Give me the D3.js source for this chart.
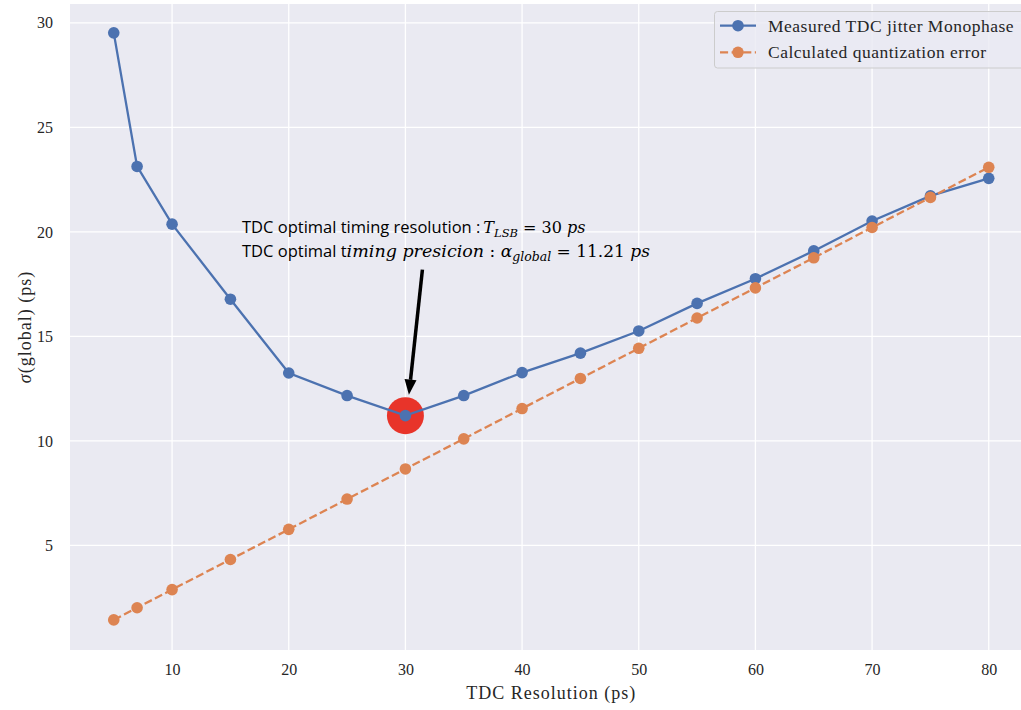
<!DOCTYPE html>
<html>
<head>
<meta charset="utf-8">
<script src="https://cdn.jsdelivr.net/npm/d3@7"></script>
<style>
  html, body { margin: 0; padding: 0; background: #ffffff; }
  svg { display: block; }
</style>
</head>
<body>
<svg id="chart" width="1021" height="710"></svg>
<script>
// ---- data ----
const resolutions = [5, 7, 10, 15, 20, 25, 30, 35, 40, 45, 50, 55, 60, 65, 70, 75, 80];
const measuredJitter = [29.52, 23.13, 20.37, 16.78, 13.25, 12.17, 11.21, 12.17, 13.27, 14.2, 15.26, 16.58, 17.76, 19.09, 20.52, 21.72, 22.56];
const quantError = [1.44, 2.02, 2.89, 4.33, 5.77, 7.22, 8.66, 10.1, 11.55, 12.99, 14.43, 15.88, 17.32, 18.76, 20.21, 21.65, 23.09];
const xTicks = [10, 20, 30, 40, 50, 60, 70, 80];
const yTicks = [5, 10, 15, 20, 25, 30];
const seriesNames = ["Measured TDC jitter Monophase", "Calculated quantization error"];
const optimum = { x: 30, y: 11.21 };

// ---- layout ----
const svg = d3.select("#chart");
const plot = { left: 70, top: 4, right: 1032.5, bottom: 650 };
const x = d3.scaleLinear().domain([1.25, 83.75]).range([plot.left, plot.right]);
const y = d3.scaleLinear().domain([0, 30.9]).range([plot.bottom, plot.top]);

const blue = "#4c72b0", orange = "#dd8452", textCol = "#262626";
const serif = "'Liberation Serif', 'Times New Roman', serif";

svg.append("rect")
  .attr("x", plot.left).attr("y", plot.top)
  .attr("width", plot.right - plot.left).attr("height", plot.bottom - plot.top)
  .attr("fill", "#eaeaf2");

// grid
const grid = svg.append("g");
grid.selectAll(".gx").data(xTicks).join("line")
  .attr("x1", d => x(d)).attr("x2", d => x(d))
  .attr("y1", plot.top).attr("y2", plot.bottom)
  .attr("stroke", "#ffffff").attr("stroke-width", 1.3);
grid.selectAll(".gy").data(yTicks).join("line")
  .attr("x1", plot.left).attr("x2", plot.right)
  .attr("y1", d => y(d)).attr("y2", d => y(d))
  .attr("stroke", "#ffffff").attr("stroke-width", 1.3);

// axes (labels only, no tick marks / domain)
const xAxis = svg.append("g").attr("transform", `translate(0,${plot.bottom})`)
  .call(d3.axisBottom(x).tickValues(xTicks).tickSize(0).tickPadding(14).tickFormat(d3.format("d")));
const yAxis = svg.append("g").attr("transform", `translate(${plot.left},0)`)
  .call(d3.axisLeft(y).tickValues(yTicks).tickSize(0).tickPadding(17).tickFormat(d3.format("d")));
[xAxis, yAxis].forEach(a => {
  a.select(".domain").remove();
  a.selectAll("text").attr("font-family", serif).attr("font-size", 16).attr("fill", textCol);
});

svg.append("text")
  .attr("x", (plot.left + plot.right) / 2).attr("y", 699)
  .attr("text-anchor", "middle").attr("font-family", serif).attr("font-size", 18)
  .attr("letter-spacing", 1).attr("fill", textCol)
  .text("TDC Resolution (ps)");

const yl = svg.append("text")
  .attr("transform", `translate(31,${(plot.top + plot.bottom) / 2}) rotate(-90)`)
  .attr("text-anchor", "middle").attr("font-family", serif).attr("font-size", 18)
  .attr("letter-spacing", 1).attr("fill", textCol);
yl.append("tspan").attr("font-style", "italic").text("σ");
yl.append("tspan").text("(global) (ps)");

// optimum highlight
svg.append("circle")
  .attr("cx", x(optimum.x)).attr("cy", y(optimum.y)).attr("r", 18.5)
  .attr("fill", "#e8342a");

const pts1 = resolutions.map((r, i) => [r, measuredJitter[i]]);
const pts2 = resolutions.map((r, i) => [r, quantError[i]]);
const line = d3.line().x(d => x(d[0])).y(d => y(d[1]));

const g1 = svg.append("g");
g1.append("path").attr("d", line(pts1)).attr("fill", "none").attr("stroke", blue).attr("stroke-width", 2.3);
g1.selectAll("circle").data(pts1).join("circle")
  .attr("cx", d => x(d[0])).attr("cy", d => y(d[1])).attr("r", 5.8).attr("fill", blue);

const g2 = svg.append("g");
g2.append("path").attr("d", line(pts2)).attr("fill", "none").attr("stroke", orange)
  .attr("stroke-width", 2.3).attr("stroke-dasharray", "8.1,3.5");
g2.selectAll("circle").data(pts2).join("circle")
  .attr("cx", d => x(d[0])).attr("cy", d => y(d[1])).attr("r", 5.8).attr("fill", orange);

// arrow
const tip = [x(optimum.x) + 3.5, y(optimum.y) - 21];
const tail = [x(optimum.x) + 17, y(optimum.y) - 146];
const ang = Math.atan2(tip[1] - tail[1], tip[0] - tail[0]);
const headLen = 15, headW = 6;
const base = [tip[0] - headLen * Math.cos(ang), tip[1] - headLen * Math.sin(ang)];
svg.append("line")
  .attr("x1", tail[0]).attr("y1", tail[1]).attr("x2", base[0]).attr("y2", base[1])
  .attr("stroke", "#000").attr("stroke-width", 3.5);
svg.append("polygon")
  .attr("points", [
    tip,
    [base[0] + headW * Math.sin(ang), base[1] - headW * Math.cos(ang)],
    [base[0] - headW * Math.sin(ang), base[1] + headW * Math.cos(ang)]
  ].map(p => p.join(",")).join(" "))
  .attr("fill", "#000");

// annotation text
const sans = "'Open Sans', 'Liberation Sans', sans-serif";
const math = "'DejaVu Serif', serif";
const ann = svg.append("g").attr("fill", "#000");
const l1 = ann.append("text").attr("x", 242).attr("y", 233).attr("font-size", 16.5);
l1.append("tspan").attr("font-family", sans).text("TDC optimal timing resolution :");
l1.append("tspan").attr("font-family", math).attr("font-style", "italic").attr("font-size", 16).attr("dx", 3).text("T");
l1.append("tspan").attr("font-family", math).attr("font-style", "italic").attr("font-size", 11.5).attr("dy", 4).text("LSB");
l1.append("tspan").attr("font-family", math).attr("font-size", 16).attr("dy", -4).text(" = 30 ");
l1.append("tspan").attr("font-family", math).attr("font-style", "italic").attr("font-size", 16).text("ps");

const l2 = ann.append("text").attr("x", 242).attr("y", 257).attr("font-size", 16.5);
l2.append("tspan").attr("font-family", sans).text("TDC optimal t");
l2.append("tspan").attr("font-family", math).attr("font-style", "italic").attr("font-size", 17.5).text("iming presicion");
l2.append("tspan").attr("font-family", math).attr("font-size", 17).text(" : ");
l2.append("tspan").attr("font-family", math).attr("font-style", "italic").attr("font-size", 17).text("α");
l2.append("tspan").attr("font-family", math).attr("font-style", "italic").attr("font-size", 12.5).attr("dy", 4).text("global");
l2.append("tspan").attr("font-family", math).attr("font-size", 17).attr("dy", -4).text(" = 11.21 ");
l2.append("tspan").attr("font-family", math).attr("font-style", "italic").attr("font-size", 17).text("ps");

// legend
const lg = svg.append("g");
lg.append("rect")
  .attr("x", 714.5).attr("y", 11.5).attr("width", 340).attr("height", 56.5).attr("rx", 3)
  .attr("fill", "#eaeaf2").attr("fill-opacity", 0.8).attr("stroke", "#cccccc").attr("stroke-width", 1);
const legendItems = [
  { name: seriesNames[0], color: blue, dash: null },
  { name: seriesNames[1], color: orange, dash: "8.1,3.5" }
];
legendItems.forEach((it, i) => {
  const cy = 25.7 + i * 26.6;
  lg.append("line").attr("x1", 720).attr("x2", 756).attr("y1", cy).attr("y2", cy)
    .attr("stroke", it.color).attr("stroke-width", 2.3).attr("stroke-dasharray", it.dash);
  lg.append("circle").attr("cx", 738).attr("cy", cy).attr("r", 5.8).attr("fill", it.color);
  lg.append("text").attr("x", 768).attr("y", cy).attr("dy", "0.35em")
    .attr("font-family", serif).attr("font-size", 17.5).attr("letter-spacing", 0.5)
    .attr("fill", textCol).text(it.name);
});
</script>
</body>
</html>
